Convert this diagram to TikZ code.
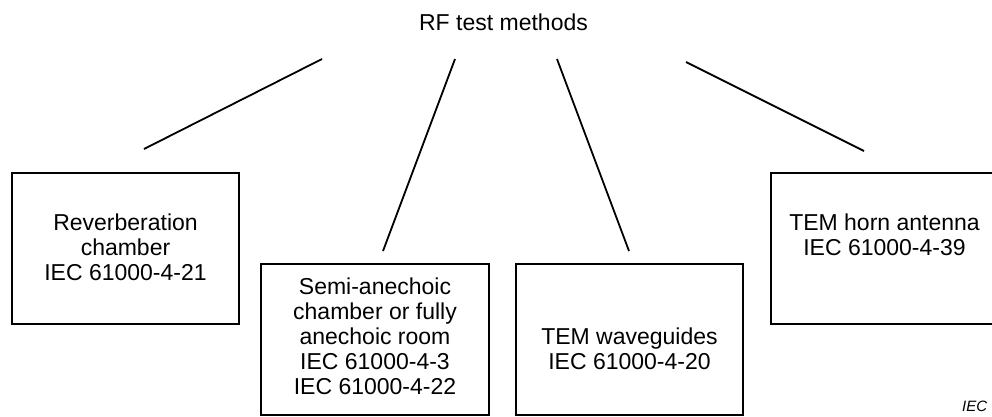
\documentclass[tikz,border=0pt]{standalone}
\usepackage{fontspec}
\setmainfont{Liberation Sans}
\usetikzlibrary{positioning}
\tikzset{
    % We almost always want centre aligned node text
    every node/.style={align=center},
}

\begin{document}
\begin{tikzpicture}[
    method/.style={draw, rectangle, line width=1.8pt,
        minimum width=227pt, minimum height=151pt, inner sep=0},
    method text/.style={font=\fontsize{23}{25}\selectfont, inner sep=0},
    branch/.style={line width=1.8pt},
    source label/.style={anchor=base west, inner sep=0,
        font=\fontsize{15}{15}\selectfont\itshape},
    x=1pt, y=-1pt,
]

\useasboundingbox (0,0) rectangle (992,416);
\clip (0,0) rectangle (992,416);

\node (title) [method text] at (503.5,22) {RF test methods};

% The four method boxes, text placed inside each one
\path
    (125.5,248.5) node (reverb) [method] {}
    +(0,-1.5) node (reverb text) [method text]
        {Reverberation\\chamber\\IEC 61000-4-21}
    (375,339.5) node (anechoic) [method, minimum width=228pt] {}
    +(0,-3) node (anechoic text) [method text]
        {Semi-anechoic\\chamber or fully\\anechoic room\\IEC 61000-4-3\\IEC 61000-4-22}
    (629.5,339.5) node (waveguide) [method] {}
    +(0,9) node (waveguide text) [method text]
        {TEM waveguides\\IEC 61000-4-20}
    (884.5,248.5) node (horn) [method] {}
    +(0,-14) node (horn text) [method text]
        {TEM horn antenna\\IEC 61000-4-39};

% Branches fan out from under the title; they stop short of the boxes
\path
    (322,59) coordinate (reverb top) (144,149) coordinate (reverb end)
    (455,59) coordinate (anechoic top) (383,251) coordinate (anechoic end)
    (557,59) coordinate (waveguide top) (629,251) coordinate (waveguide end)
    (686,62) coordinate (horn top) (864,151) coordinate (horn end);

\draw [branch] (reverb top) -- (reverb end);
\draw [branch] (anechoic top) -- (anechoic end);
\draw [branch] (waveguide top) -- (waveguide end);
\draw [branch] (horn top) -- (horn end);

\node (fig source) [source label] at (962,411) {IEC};

\end{tikzpicture}
\end{document}
